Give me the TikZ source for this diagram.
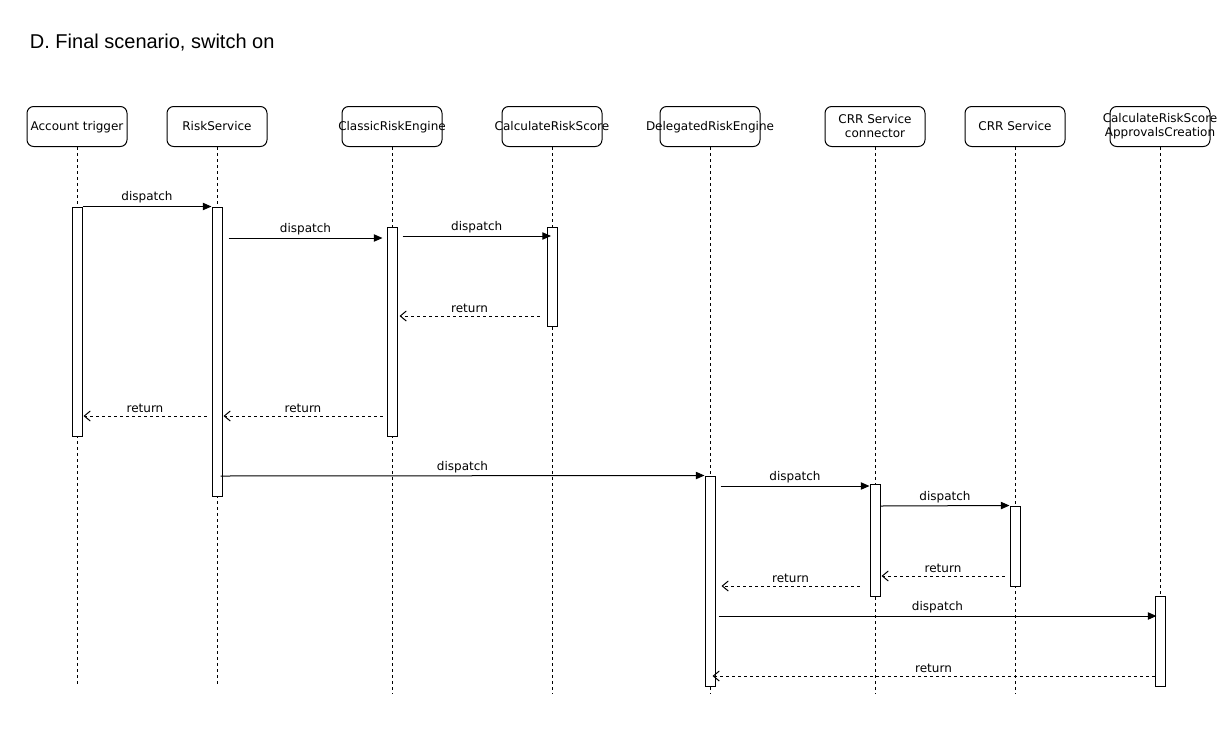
\documentclass[tikz,border=0pt]{standalone}
\usepackage{fontspec}
\setmainfont{DejaVu Sans}
\newfontfamily\titlefont{Liberation Sans}
\usepackage{tikz}
\usetikzlibrary{arrows.meta, positioning, calc}

% label that may stick out of its box, as in the original
\newcommand{\plab}[1]{\makebox[0pt][c]{#1}}

\begin{document}
\begin{tikzpicture}[
			x=0.75pt, y=-0.75pt,
			line width=0.75pt,
			every node/.style={font=\fontsize{9pt}{10.5pt}\selectfont},
			part/.style={
					draw, fill=white, rounded corners=5pt,
					minimum width=75pt, minimum height=30pt,
					inner sep=0pt,
					text height=7pt, % same height for every one-line label
					text depth=0.5pt
				},
			twoline/.style={align=center, text height=, text depth=},
			life/.style={dash pattern=on 2.25pt off 2.25pt},
			act/.style={draw, fill=white, minimum width=7.5pt, inner sep=0pt},
			call/.style={-{Triangle[length=6.5pt, width=5.5pt]}},
			back/.style={-{Straight Barb[length=4.5pt, width=7.5pt]},
					dash pattern=on 2.25pt off 2.25pt},
			msg/.style={above, midway, inner sep=2pt}
		]
		\useasboundingbox (0,0) rectangle (1226,732);

		\node[anchor=west, font=\titlefont\fontsize{15pt}{18pt}\selectfont] (title) at (25,43) {D. Final scenario, switch on};

		% participants
		\node[part] (pAcc) at (77,126.5) {\plab{Account trigger}};
		\node[part] (pRisk) at (217,126.5) {\plab{RiskService}};
		\node[part] (pCls) at (392,126.5) {\plab{ClassicRiskEngine}};
		\node[part] (pCalc) at (552,126.5) {\plab{CalculateRiskScore}};
		\node[part] (pDel) at (710,126.5) {\plab{DelegatedRiskEngine}};
		\node[part, twoline] (pCon) at (875,126.5) {\plab{CRR Service}\\\plab{connector}};
		\node[part] (pCrr) at (1015,126.5) {\plab{CRR Service}};
		\node[part, twoline] (pFin) at (1160,126.5) {\plab{CalculateRiskScore}\\\plab{ApprovalsCreation}};

		% lifelines
		\draw[life] (pAcc) -- (pAcc |- 0,684);
		\draw[life] (pRisk) -- (pRisk |- 0,684);
		\draw[life] (pCls) -- (pCls |- 0,694);
		\draw[life] (pCalc) -- (pCalc |- 0,694);
		\draw[life] (pDel) -- (pDel |- 0,694);
		\draw[life] (pCon) -- (pCon |- 0,694);
		\draw[life] (pCrr) -- (pCrr |- 0,694);
		\draw[life] (pFin) -- (pFin |- 0,684);

		% activations
		\node[act, minimum height=171.75pt] (aAcc) at (77,321.5) {};
		\node[act, minimum height=216.75pt] (aRisk) at (217,351.5) {};
		\node[act, minimum height=156.75pt] (aCls) at (392,331.5) {};
		\node[act, minimum height=74.25pt] (aCalc) at (552,276.5) {};
		\node[act, minimum height=157.5pt] (aDel) at (710,581) {};
		\node[act, minimum height=84pt] (aCon) at (875,540) {};
		\node[act, minimum height=60pt] (aCrr) at (1015,546) {};
		\node[act, minimum height=67.5pt] (aFin) at (1160,641) {};

		% messages
		\draw[call] (aAcc.north east) -- (aRisk.north west) node[msg] {dispatch};
		\draw[call] ([xshift=4.5pt]aRisk.east |- 0,238) -- ([xshift=-3pt]aCls.west |- 0,238) node[msg] {dispatch};
		\draw[call] ([xshift=3.75pt]aCls.east |- 0,236) -- ([xshift=-0.75pt]aCalc.center |- 0,236) node[msg] {dispatch};
		\draw[back] ([xshift=-5.25pt]aCalc.west |- 0,316) -- ([xshift=1.5pt]aCls.east |- 0,316) node[msg] {return};
		\draw[back] ([xshift=-3pt]aCls.west |- 0,416) -- ([xshift=0.75pt]aRisk.east |- 0,416) node[msg] {return};
		\draw[back] ([xshift=-3.75pt]aRisk.west |- 0,416) -- ([xshift=0.75pt]aAcc.east |- 0,416) node[msg] {return};
		\draw[call] ([xshift=-1.5pt]aRisk.east |- 0,476) -- (aDel.north west) node[msg] {dispatch};
		\draw[call] ([xshift=3.75pt]aDel.east |- 0,486) -- (aCon.west |- 0,486) node[msg] {dispatch};
		\draw[call] (aCon.east |- 0,506) -- (aCrr.north west) node[msg] {dispatch};
		\draw[back] ([xshift=-3.75pt]aCrr.west |- 0,576) -- ([xshift=0.75pt]aCon.east |- 0,576) node[msg] {return};
		\draw[back] ([xshift=-7.5pt]aCon.west |- 0,586) -- ([xshift=4.5pt]aDel.east |- 0,586) node[msg] {return};
		\draw[call] ([xshift=2.25pt]aDel.east |- 0,616) -- ([xshift=1.5pt]aFin.west |- 0,616) node[msg] {dispatch};
		\draw[back] (aFin.west |- 0,676) -- ([xshift=-2.25pt]aDel.east |- 0,676) node[msg] {return};
	\end{tikzpicture}
\end{document}
